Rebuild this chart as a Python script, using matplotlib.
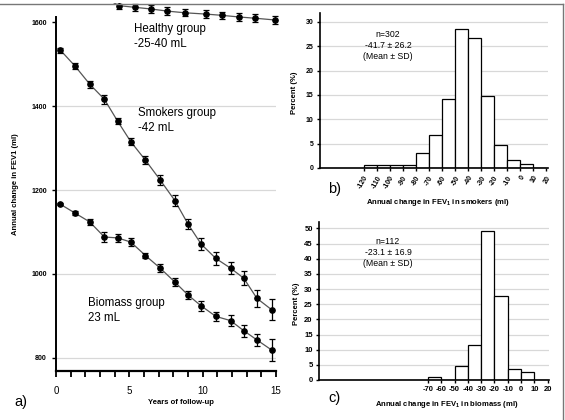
import matplotlib
matplotlib.use("Agg")
import matplotlib.pyplot as plt
from matplotlib.patches import Rectangle
from matplotlib.lines import Line2D
import numpy as np

plt.rcParams['font.family'] = ['Liberation Sans', 'DejaVu Sans']
plt.rcParams['mathtext.fontset'] = 'custom'
plt.rcParams['mathtext.rm'] = 'Liberation Sans'
plt.rcParams['mathtext.bf'] = 'Liberation Sans:bold'
plt.rcParams['axes.unicode_minus'] = False

# DATA ########################################################################

years = [0.3, 1.3, 2.3, 3.3, 4.2, 5.1, 6.1, 7.1, 8.1, 9.0, 9.9, 10.9, 11.9, 12.8, 13.7, 14.7]
smokers = [1533, 1495, 1452, 1416, 1364, 1315, 1271, 1224, 1175, 1119, 1071, 1037, 1014, 990, 942, 915]
smokers_err = [6, 7, 8, 10, 7, 9, 10, 11, 12, 13, 14, 15, 15, 16, 20, 25]
biomass = [1166, 1145, 1124, 1088, 1086, 1076, 1044, 1014, 981, 950, 924, 899, 889, 865, 843, 819]
biomass_err = [2, 4, 7, 11, 10, 10, 7, 10, 10, 10, 11, 11, 13, 14, 15, 27]

healthy_years = [3.2, 4.3, 5.4, 6.5, 7.6, 8.8, 10.2, 11.3, 12.5, 13.6, 14.9]
healthy = [1660, 1639, 1635, 1631, 1626, 1622, 1619, 1616, 1612, 1609, 1605]
healthy_err = [9, 9, 9, 9, 9, 8, 9, 9, 9, 9, 9]

smk_bins = [-120, -110, -100, -90, -80, -70, -60, -50, -40, -30, -20, -10, 0, 10]
smk_pct = [0.66, 0.66, 0.66, 0.66, 3.0, 6.8, 14.2, 28.5, 26.7, 14.8, 4.8, 1.7, 0.8, 0.0]

bio_bins = [-70, -60, -50, -40, -30, -20, -10, 0, 10]
bio_pct = [0.9, 0.0, 4.5, 11.6, 49.1, 27.7, 3.6, 2.7, 0.0]

# LAYOUT HELPERS ##############################################################

W, H = 565.0, 420.0
fig = plt.figure(figsize=(W / 100, H / 100), dpi=100)


def rect(l, t, r, b):
    return [l / W, 1 - b / H, (r - l) / W, (b - t) / H]


def ftext(x, y, s, **kw):
    fig.text(x / W, 1 - y / H, s, **kw)


bold_small = dict(fontsize=5.5, fontweight='bold')

# PANEL A #####################################################################

ax1 = fig.add_axes(rect(56, 17, 276, 371))
for v in [800, 1000, 1200, 1400]:
    ax1.axhline(v, color='#d8d8d8', lw=0.9, zorder=0)

ax1.plot(years, smokers, color='#555555', lw=0.9, zorder=2)
ax1.errorbar(years, smokers, yerr=smokers_err, fmt='o', color='black', ms=3.8,
             capsize=2.3, elinewidth=0.9, capthick=0.9, zorder=3)
ax1.plot(years, biomass, color='#555555', lw=0.9, zorder=2)
ax1.errorbar(years, biomass, yerr=biomass_err, fmt='o', color='black', ms=3.8,
             capsize=2.3, elinewidth=0.9, capthick=0.9, zorder=3)

hl, = ax1.plot(healthy_years, healthy, color='#555555', lw=0.9, zorder=2, clip_on=False)
heb = ax1.errorbar(healthy_years, healthy, yerr=healthy_err, fmt='o', color='black', ms=3.8,
                   capsize=2.3, elinewidth=0.9, capthick=0.9, zorder=3)
for art in heb.get_children():
    art.set_clip_on(False)

ax1.set_xlim(0, 15)
ax1.set_ylim(769, 1612)
ax1.set_xticks([0, 5, 10, 15])
ax1.set_xticks(np.arange(0, 16, 1), minor=True)
ax1.set_yticks([800, 1000, 1200, 1400, 1600])
ax1.tick_params(axis='x', which='both', length=4.5, width=1.3, labelsize=7, pad=6)
ax1.tick_params(axis='y', length=3, width=1, labelsize=5)
for lab in ax1.get_yticklabels():
    lab.set_fontweight('bold')
for side in ['top', 'right']:
    ax1.spines[side].set_visible(False)
ax1.spines['left'].set_linewidth(1.4)
ax1.spines['bottom'].set_linewidth(1.6)

ftext(134, 23, "Healthy group\n-25-40 mL", fontsize=8.3, va='top', linespacing=1.3)
ftext(138, 107, "Smokers group\n-42 mL", fontsize=8.3, va='top', linespacing=1.3)
ftext(88, 297, "Biomass group\n23 mL", fontsize=8.3, va='top', linespacing=1.3)
ftext(181, 403, "Years of follow-up", ha='center', va='center', **bold_small)
ftext(16, 184, "Annual change in FEV1 (ml)", ha='center', va='center', rotation=90, **bold_small)
ftext(14, 402, "a)", fontsize=10.5, va='center')

# PANEL B #####################################################################

ax2 = fig.add_axes(rect(320, 13, 548, 168))
ax2.bar(smk_bins, smk_pct, width=10, align='edge', color='white', edgecolor='black', lw=0.9, zorder=2)
ax2.set_xlim(-153.7, 21.5)
ax2.set_ylim(0, 31.8)
ax2.set_yticks(np.arange(0, 31, 5))
ax2.set_xticks(np.arange(-120, 21, 10))
ax2.set_xticklabels([str(v) for v in range(-120, 21, 10)], rotation=60, ha='right',
                    va='top', rotation_mode='anchor')
ax2.yaxis.grid(True, color='#d8d8d8', lw=0.9)
ax2.set_axisbelow(True)
ax2.tick_params(length=2.5, width=1, labelsize=5, pad=2)
for lab in ax2.get_xticklabels() + ax2.get_yticklabels():
    lab.set_fontweight('bold')
for side in ['top', 'right']:
    ax2.spines[side].set_visible(False)
ax2.spines['left'].set_linewidth(1.2)
ax2.spines['bottom'].set_linewidth(1.2)

ftext(388, 45.7, "n=302\n-41.7 \u00b1 26.2\n(Mean \u00b1 SD)", fontsize=6.3, ha='center',
      va='center', multialignment='center', linespacing=1.25)
ftext(438, 202, r"Annual change in FEV$_\mathbf{1}$ in smokers (ml)", ha='center', va='center', **bold_small)
ftext(295, 93, "Percent (%)", ha='center', va='center', rotation=90, **bold_small)
ftext(328, 189, "b)", fontsize=10.5, va='center')

# PANEL C #####################################################################

ax3 = fig.add_axes(rect(319, 222, 549, 380))
ax3.bar(bio_bins, bio_pct, width=10, align='edge', color='white', edgecolor='black', lw=0.9, zorder=2)
ax3.set_xlim(-152, 21)
ax3.set_ylim(0, 52.1)
ax3.set_yticks(np.arange(0, 51, 5))
ax3.set_xticks(np.arange(-70, 21, 10))
ax3.set_xticklabels([str(v) for v in range(-70, 21, 10)])
ax3.yaxis.grid(True, color='#d8d8d8', lw=0.9)
ax3.set_axisbelow(True)
ax3.tick_params(length=2.5, width=1, labelsize=5.5, pad=2)
for lab in ax3.get_xticklabels() + ax3.get_yticklabels():
    lab.set_fontweight('bold')
for side in ['top', 'right']:
    ax3.spines[side].set_visible(False)
ax3.spines['left'].set_linewidth(1.2)
ax3.spines['bottom'].set_linewidth(1.2)

ftext(388, 252.7, "n=112\n-23.1 \u00b1 16.9\n(Mean \u00b1 SD)", fontsize=6.3, ha='center',
      va='center', multialignment='center', linespacing=1.25)
ftext(447, 405, r"Annual change in FEV$_\mathbf{1}$ in biomass (ml)", ha='center', va='center', **bold_small)
ftext(296, 304, "Percent (%)", ha='center', va='center', rotation=90, **bold_small)
ftext(328, 398, "c)", fontsize=10.5, va='center')

# FRAME #######################################################################

fig.patches.append(Rectangle((0, 1 - 3 / H), 1, 3 / H, transform=fig.transFigure,
                             facecolor='white', edgecolor='none', zorder=5))
fig.lines.append(Line2D([0, 563 / W], [1 - 3.5 / H, 1 - 3.5 / H], transform=fig.transFigure,
                        color='#777777', lw=1, zorder=6))
fig.lines.append(Line2D([563 / W, 563 / W], [0, 1 - 3.5 / H], transform=fig.transFigure,
                        color='#777777', lw=1, zorder=6))

fig.savefig("out.png", dpi=100)
